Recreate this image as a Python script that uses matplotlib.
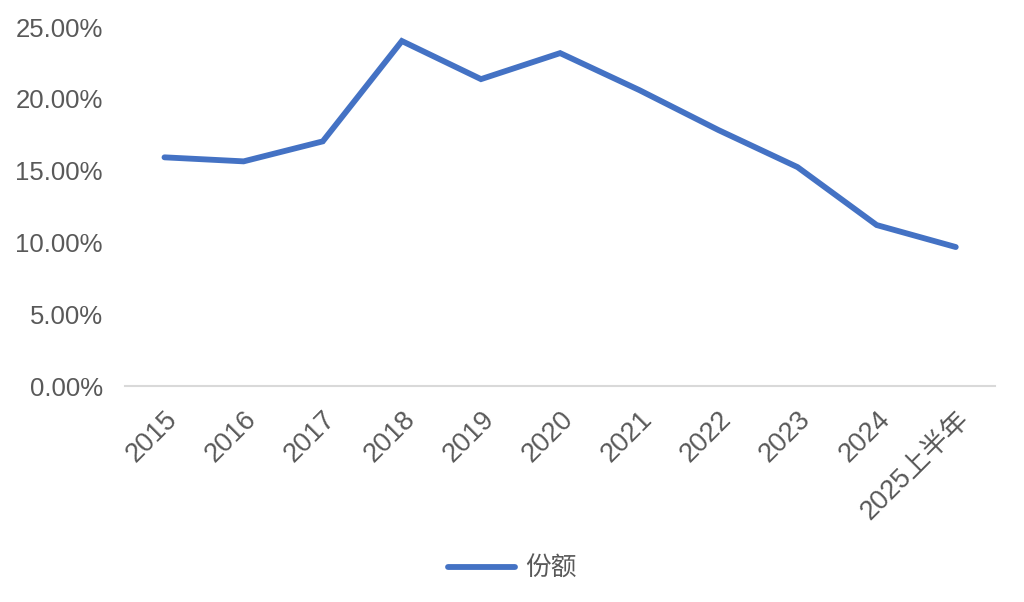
import matplotlib.pyplot as plt
from matplotlib.ticker import PercentFormatter

plt.rcParams['font.family'] = ['Liberation Sans', 'Noto Sans CJK SC', 'DejaVu Sans']

# data
years = ['2015', '2016', '2017', '2018', '2019', '2020',
         '2021', '2022', '2023', '2024', '2025上半年']
share = [15.94, 15.66, 17.05, 24.03, 21.38, 23.19,
         20.62, 17.84, 15.26, 11.23, 9.70]
yticks = [0, 5, 10, 15, 20, 25]

grey = '#595959'
blue = '#4472C4'

fig = plt.figure(figsize=(10.24, 6.02), dpi=100)
ax = fig.add_axes([0.122, 0.358, 0.850, 0.597])

x = list(range(len(years)))
ax.plot(x, share, color=blue, linewidth=4.2, solid_joinstyle='miter',
        solid_capstyle='round', label='份额')

ax.set_xlim(-0.5, len(years) - 0.5)
ax.set_ylim(0, 25)
ax.set_yticks(yticks)
ax.yaxis.set_major_formatter(PercentFormatter(decimals=2))
ax.set_xticks(x)
ax.set_xticklabels(years, rotation=45, ha='right', rotation_mode='anchor')

for s in ['top', 'right', 'left']:
    ax.spines[s].set_visible(False)
ax.spines['bottom'].set_color('#d9d9d9')
ax.spines['bottom'].set_linewidth(1.5)
ax.tick_params(axis='both', length=0, colors=grey)
ax.tick_params(axis='y', pad=16, labelsize=18.5)
ax.tick_params(axis='x', pad=14, labelsize=19.5)
for lab in ax.get_xticklabels():
    lab.set_x(lab.get_position()[0])

fig.legend(loc='center', bbox_to_anchor=(0.5, 0.055), frameon=False,
           fontsize=18.5, labelcolor=grey, handlelength=2.6, handletextpad=0.4)

fig.savefig('out.png', dpi=100)
